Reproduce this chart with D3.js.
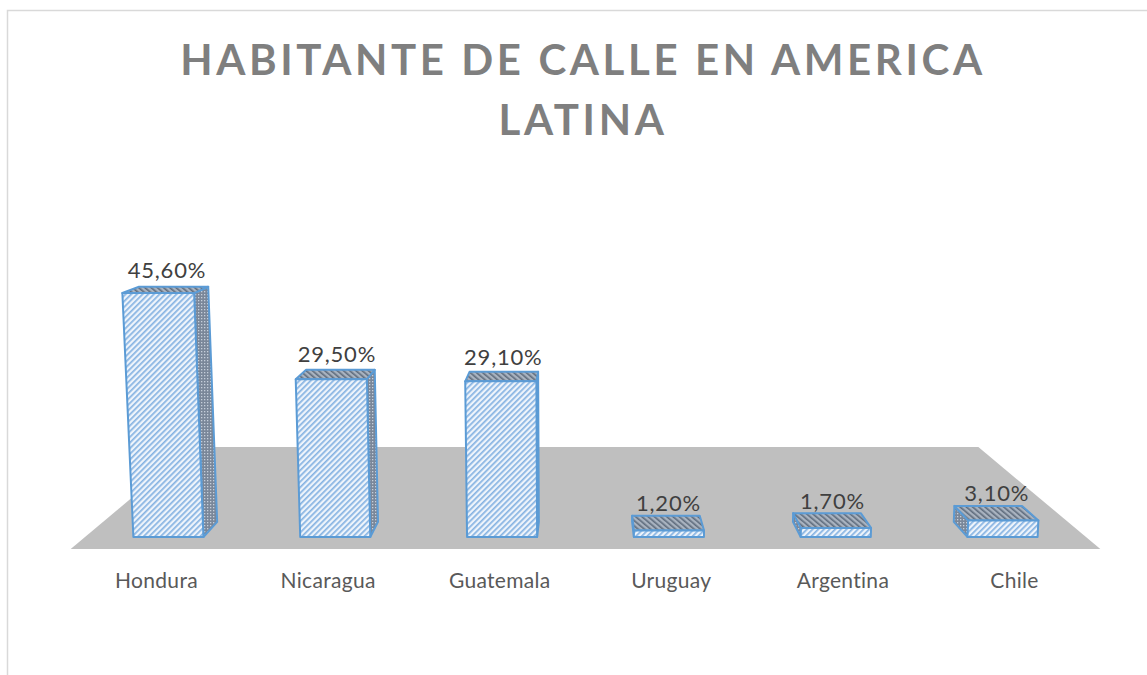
<!DOCTYPE html>
<html>
<head>
<meta charset="utf-8">
<script src="https://cdn.jsdelivr.net/npm/d3@7"></script>
<style>
  html, body { margin: 0; padding: 0; background: #fff; }
  svg { display: block; font-family: Lato, 'Open Sans', sans-serif; }
</style>
</head>
<body>
<div id="chart"></div>
<script>
// Data
const CATEGORIES = ['Hondura', 'Nicaragua', 'Guatemala', 'Uruguay', 'Argentina', 'Chile'];
const VALUES = [45.6, 29.5, 29.1, 1.2, 1.7, 3.1];
const TITLE_LINES = ['HABITANTE DE CALLE EN AMERICA', 'LATINA'];

const W = 1147, H = 675;

// perspective set-up (one vanishing point, plus a slight vertical spread)
const VP_X = 585, VP_Y = 118;
const BASE_Y = 537;
const SLANT = 1e-4;
const Z_FLOOR_FRONT = -0.0286, Z_FLOOR_BACK = 0.2148, Z_BAR = 0.036;

const svg = d3.select('#chart').append('svg').attr('width', W).attr('height', H);

const defs = svg.append('defs');

// front faces: light blue with "/" stripes
const pFront = defs.append('pattern')
  .attr('id', 'front').attr('patternUnits', 'userSpaceOnUse')
  .attr('width', 4).attr('height', 4)
  .attr('patternTransform', 'rotate(45)');
pFront.append('rect').attr('width', 4).attr('height', 4).attr('fill', '#eef4fb');
pFront.append('rect').attr('width', 1.7).attr('height', 4).attr('fill', '#86b3e2');

// side faces: dark dotted grid
const pSide = defs.append('pattern')
  .attr('id', 'side').attr('patternUnits', 'userSpaceOnUse')
  .attr('width', 3).attr('height', 3);
pSide.append('rect').attr('width', 3).attr('height', 3).attr('fill', '#7a8799');
pSide.append('rect').attr('width', 1.3).attr('height', 1.3).attr('fill', '#c6cfdb');

// top faces: gray with dark "\" stripes
const pTop = defs.append('pattern')
  .attr('id', 'top').attr('patternUnits', 'userSpaceOnUse')
  .attr('width', 4).attr('height', 4)
  .attr('patternTransform', 'rotate(-50)');
pTop.append('rect').attr('width', 4).attr('height', 4).attr('fill', '#a9b3c0');
pTop.append('rect').attr('width', 1.6).attr('height', 4).attr('fill', '#5f6c7d');

// chart area border
svg.append('rect')
  .attr('x', 7.5).attr('y', 10.5)
  .attr('width', W + 20).attr('height', H + 20)
  .attr('fill', '#fff')
  .attr('stroke', '#d9d9d9')
  .attr('stroke-width', 1.5);

// title
const title = svg.append('g');
TITLE_LINES.forEach((t, i) => {
  title.append('text')
    .attr('x', 583)
    .attr('y', 75 + i * 60)
    .attr('text-anchor', 'middle')
    .attr('font-size', '42px')
    .attr('font-weight', 'bold')
    .attr('letter-spacing', '3.6px')
    .attr('fill', '#7f7f7f')
    .text(t);
});

const x = d3.scaleBand()
  .domain(CATEGORIES)
  .range([85, 1086])
  .paddingInner(0.58)
  .paddingOuter(0.29);

const y = d3.scaleLinear().domain([0, 50]).range([0, 267.5]);

function proj(u, h, z) {
  const k = 1 + h * SLANT;
  const fx = VP_X + (u - VP_X) * k;
  const fy = BASE_Y - h;
  return [fx + z * (VP_X - fx), fy + z * (VP_Y - fy)];
}

const poly = pts => 'M' + pts.map(p => p.join(',')).join('L') + 'Z';

// floor
const [r0, r1] = x.range();
svg.append('path')
  .attr('d', poly([
    proj(r0, 0, Z_FLOOR_FRONT), proj(r1, 0, Z_FLOOR_FRONT),
    proj(r1, 0, Z_FLOOR_BACK), proj(r0, 0, Z_FLOOR_BACK)
  ]))
  .attr('fill', '#bfbfbf');

// bars
const bars = svg.append('g');
CATEGORIES.forEach((c, i) => {
  const u0 = x(c), u1 = x(c) + x.bandwidth();
  const h = y(VALUES[i]);
  const g = bars.append('g')
    .attr('stroke', '#5b9bd5')
    .attr('stroke-width', 2)
    .attr('stroke-linejoin', 'round');

  const uc = (u0 + u1) / 2;
  const su = uc < VP_X ? u1 : u0;   // visible side face
  g.append('path')
    .attr('d', poly([proj(su, 0, 0), proj(su, h, 0), proj(su, h, Z_BAR), proj(su, 0, Z_BAR)]))
    .attr('fill', 'url(#side)');
  g.append('path')
    .attr('d', poly([proj(u0, h, 0), proj(u1, h, 0), proj(u1, h, Z_BAR), proj(u0, h, Z_BAR)]))
    .attr('fill', 'url(#top)');
  g.append('path')
    .attr('d', poly([proj(u0, 0, 0), proj(u1, 0, 0), proj(u1, h, 0), proj(u0, h, 0)]))
    .attr('fill', 'url(#front)');

  const lp = proj(uc, h, Z_BAR / 2);
  svg.append('text')
    .attr('x', lp[0] + 1)
    .attr('y', lp[1] - 12)
    .attr('text-anchor', 'middle')
    .attr('font-size', '22px')
    .attr('letter-spacing', '0.8px')
    .attr('fill', '#404040')
    .text(VALUES[i].toFixed(2).replace('.', ',') + '%');
});

// category labels along the floor front edge
CATEGORIES.forEach(c => {
  const p = proj(x(c) + x.bandwidth() / 2, 0, Z_FLOOR_FRONT);
  svg.append('text')
    .attr('x', p[0])
    .attr('y', 588)
    .attr('text-anchor', 'middle')
    .attr('font-size', '21px')
    .attr('letter-spacing', '0.3px')
    .attr('fill', '#595959')
    .text(c);
});
</script>
</body>
</html>
